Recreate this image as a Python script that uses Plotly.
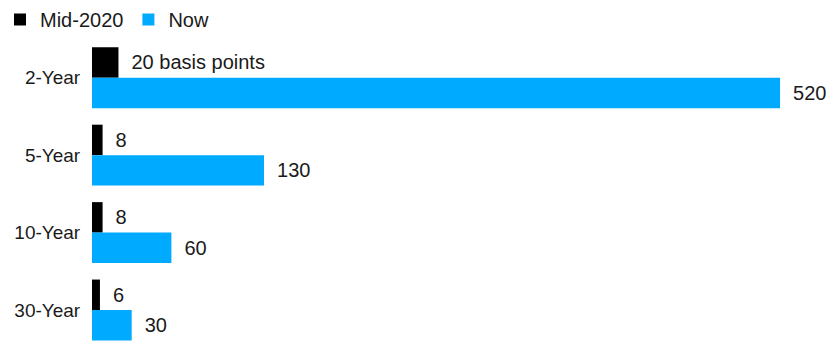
import plotly.graph_objects as go

categories = ["2-Year", "5-Year", "10-Year", "30-Year"]
mid2020 = [20, 8, 8, 6]
now = [520, 130, 60, 30]
mid_labels = ["20 basis points", "8", "8", "6"]
now_labels = ["520", "130", "60", "30"]

FONT = "Liberation Sans, Arial, sans-serif"
TXT = "#1a1a1a"
SP = "\u2002"

fig = go.Figure()
fig.add_trace(go.Bar(
    y=categories, x=mid2020, orientation="h", name="Mid-2020",
    marker=dict(color="#000000", line=dict(width=0)),
    text=[SP + t for t in mid_labels], textposition="outside",
    textfont=dict(family=FONT, size=20, color=TXT), cliponaxis=False,
    hoverinfo="skip",
))
fig.add_trace(go.Bar(
    y=categories, x=now, orientation="h", name="Now",
    marker=dict(color="#00aaff", line=dict(width=0)),
    text=[SP + t for t in now_labels], textposition="outside",
    textfont=dict(family=FONT, size=20, color=TXT), cliponaxis=False,
    hoverinfo="skip",
))

fig.update_layout(
    width=827, height=341,
    margin=dict(l=92, r=0, t=39, b=0, pad=0),
    paper_bgcolor="white", plot_bgcolor="white",
    barmode="group", bargap=0.213, bargroupgap=0,
    font=dict(family=FONT, size=19, color=TXT),
    showlegend=True,
    legend=dict(orientation="h", x=0, y=1, xref="container", yref="container",
                xanchor="left", yanchor="top", bgcolor="rgba(0,0,0,0)",
                font=dict(family=FONT, size=20, color=TXT),
                itemwidth=30, traceorder="normal"),
    xaxis=dict(range=[0, 555.5], visible=False, fixedrange=True),
    yaxis=dict(range=[3.4, -0.5], showgrid=False, zeroline=False, showline=False,
               ticks="outside", ticklen=7, tickcolor="rgba(0,0,0,0)",
               tickfont=dict(family=FONT, size=19, color=TXT), fixedrange=True),
)

fig.write_html("out.html")
